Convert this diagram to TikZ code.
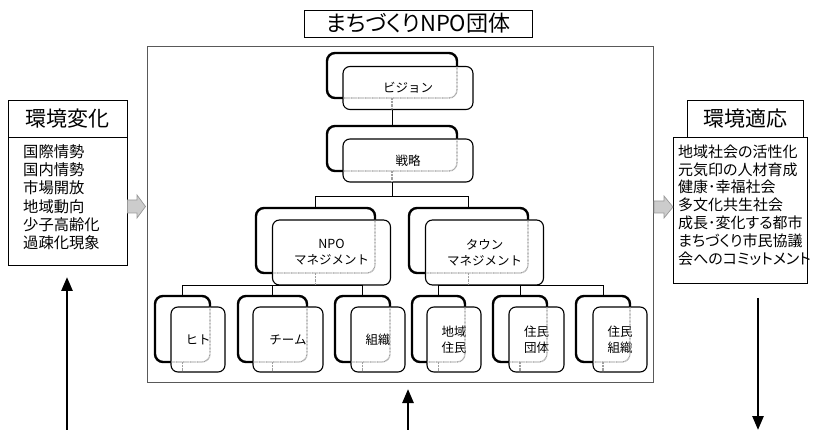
\documentclass[tikz,border=0pt]{standalone}
\usepackage{fontspec}
\newfontfamily\jp{Noto Sans CJK JP}
\newfontfamily\jpp{Noto Sans CJK JP}[RawFeature=+palt]
\usetikzlibrary{arrows.meta,calc}
\newcommand\showthrough[2]{%
  \begin{scope}
    \clip[rounded corners=7pt] (#2.south west) rectangle (#2.north east);
    \draw[seeline, rounded corners=8pt] (#1.south west) rectangle (#1.north east);
    \draw[seeline] (#1.south) -- (#1.south |- #2.south);
  \end{scope}}
\begin{document}
\begin{tikzpicture}[x=1pt,y=-1pt,
  backbox/.style={draw, line width=2.4pt, rounded corners=8pt, outer sep=0pt, inner sep=0pt},
  frontbox/.style={draw, line width=1.1pt, rounded corners=7pt, fill=white, outer sep=0pt, inner sep=0pt, align=center, font=\jp\fontsize{12.5}{16}\selectfont},
  conn/.style={line width=0.9pt},
  seeline/.style={draw=gray!75, line width=1.3pt, dash pattern=on 0.8pt off 0.6pt},
  plainbox/.style={draw, line width=0.8pt, outer sep=0pt, inner sep=0pt},
  headfont/.style={font=\jp\fontsize{21}{21}\selectfont},
  listtext/.style={inner sep=0pt, align=left, anchor=north west, font=\jpp\fontsize{15.3}{18.2}\selectfont},
  grayarr/.style={draw=gray!80, fill=gray!40, line width=0.7pt},
  bigarrow/.style={line width=2.6pt, -{Triangle[width=11pt,length=14pt]}}
]
\useasboundingbox (0,0) rectangle (814,430);

% frame
\node[draw=black!65, line width=1pt, minimum width=506, minimum height=335, outer sep=0pt] (frame) at (400,214.5) {};
\node[plainbox, font=\jpp\fontsize{22}{22}\selectfont, minimum width=228, minimum height=27] (title) at (418,23.5) {まちづくりNPO団体};

% back boxes
\node[backbox, minimum width=130, minimum height=45] (visB) at (392,75.5) {};
\node[backbox, minimum width=130, minimum height=45] (senB) at (392,148.5) {};
\node[backbox, minimum width=119, minimum height=65] (npoB) at (315.5,240.5) {};
\node[backbox, minimum width=119, minimum height=65] (townB) at (468.5,240.5) {};
\node[backbox, minimum width=55, minimum height=66] (hitoB) at (182.5,329) {};
\node[backbox, minimum width=69, minimum height=66] (teamB) at (272.5,329) {};
\node[backbox, minimum width=55, minimum height=66] (soshB) at (362.5,329) {};
\node[backbox, minimum width=53, minimum height=66] (chiikiB) at (438.5,329) {};
\node[backbox, minimum width=54, minimum height=66] (dantaiB) at (520,329) {};
\node[backbox, minimum width=54, minimum height=66] (jsoshB) at (603,329) {};

% connectors
\coordinate (yA) at (0,196);
\coordinate (yB) at (0,285);
\draw[conn] (visB.south) -- (senB.north);
\draw[conn] (senB.south) -- (senB.south |- yA);
\draw[conn] (npoB.north) -- (npoB.north |- yA) -- (townB.north |- yA) -- (townB.north);
\draw[conn] (hitoB.north) -- (hitoB.north |- yB) -- (soshB.north |- yB) -- (soshB.north);
\draw[conn] (teamB.north) -- (teamB.north |- yB);
\draw[conn] (chiikiB.north) -- (chiikiB.north |- yB) -- (jsoshB.north |- yB) -- (jsoshB.north);
\draw[conn] (dantaiB.north) -- (dantaiB.north |- yB);

% front boxes
\node[frontbox, minimum width=130, minimum height=43] (visF) at (408,88) {ビジョン};
\node[frontbox, minimum width=130, minimum height=43] (senF) at (408,160.5) {戦略};
\node[frontbox, minimum width=118, minimum height=65] (npoF) at (331.5,252.5) {NPO\\マネジメント};
\node[frontbox, minimum width=118, minimum height=65] (townF) at (484.5,252.5) {タウン\\マネジメント};
\node[frontbox, minimum width=54, minimum height=65] (hitoF) at (198,339.5) {ヒト};
\node[frontbox, minimum width=70, minimum height=65] (teamF) at (288,339.5) {チーム};
\node[frontbox, minimum width=54, minimum height=65] (soshF) at (378,339.5) {組織};
\node[frontbox, minimum width=54, minimum height=65] (chiikiF) at (454,339.5) {地域\\住民};
\node[frontbox, minimum width=55, minimum height=65] (dantaiF) at (536.5,339.5) {住民\\団体};
\node[frontbox, minimum width=54, minimum height=65] (jsoshF) at (620,339.5) {住民\\組織};

\showthrough{visB}{visF}
\showthrough{senB}{senF}
\showthrough{npoB}{npoF}
\showthrough{townB}{townF}
\showthrough{hitoB}{hitoF}
\showthrough{teamB}{teamF}
\showthrough{soshB}{soshF}
\showthrough{chiikiB}{chiikiF}
\showthrough{dantaiB}{dantaiF}
\showthrough{jsoshB}{jsoshF}

% left box
\node[plainbox, headfont, minimum width=119, minimum height=37] (envH) at (67.5,118.5) {環境変化};
\node[plainbox, minimum width=119, minimum height=128, anchor=north] (envL) at (envH.south) {};
\node[listtext] (envT) at (23,144.5) {国際情勢\\国内情勢\\市場開放\\地域動向\\少子高齢化\\過疎化現象};

% right box
\node[plainbox, headfont, minimum width=116, minimum height=37] (adaH) at (745,118.5) {環境適応};
\node[plainbox, minimum width=134, minimum height=146, anchor=north] (adaL) at (740,137) {};
\node[listtext, font=\jpp\fontsize{15}{17.8}\selectfont] (adaT) at (678,144.5) {地域社会の活性化\\元気印の人材育成\\健康･幸福社会\\多文化共生社会\\成長･変化する都市\\まちづくり市民協議\\会へのコミットメント};

% gray block arrows
\filldraw[grayarr] (127.5,200) -- (137,200) -- (137,195) -- (145.5,206.5) -- (137,218) -- (137,213) -- (127.5,213) -- cycle;
\filldraw[grayarr] (654,201) -- (664,201) -- (664,196) -- (673,207) -- (664,218) -- (664,213) -- (654,213) -- cycle;

% vertical arrows
\coordinate (a1s) at (67,430); \coordinate (a1e) at (67,277);
\coordinate (a2s) at (408,430); \coordinate (a2e) at (408,389);
\coordinate (a3s) at (758,298); \coordinate (a3e) at (758,430);
\draw[bigarrow] (a1s) -- (a1e);
\draw[bigarrow] (a2s) -- (a2e);
\draw[bigarrow] (a3s) -- (a3e);
\end{tikzpicture}
\end{document}
